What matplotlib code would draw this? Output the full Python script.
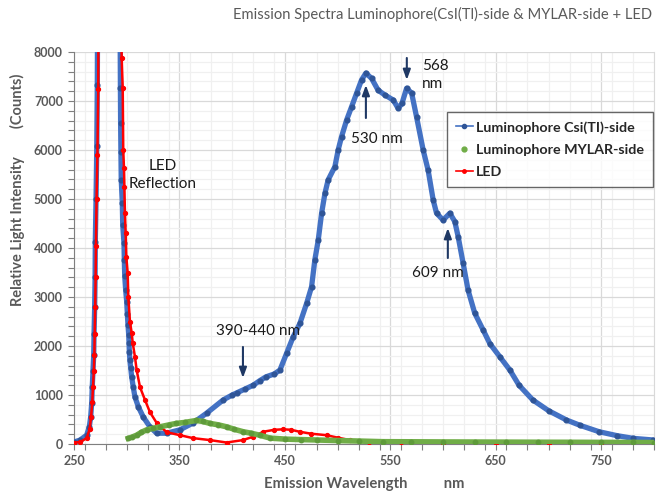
import matplotlib
matplotlib.use("Agg")
import matplotlib.pyplot as plt
from matplotlib.lines import Line2D
from matplotlib.ticker import MultipleLocator, FixedLocator

plt.rcParams['font.family'] = ['Lato', 'DejaVu Sans']

# ---------------- data ----------------
csi_nm = [250, 255.7, 262, 264.5, 265.8, 266.8, 267.3, 268, 268.7, 269, 269.6, 270.0,
          270.2, 270.9, 271.6, 272.1, 273, 293, 294.0, 294.2, 294.5, 294.8, 295.8, 296.2,
          297.4, 297.7, 298.1, 299.0, 300.0, 300.6, 301.2, 301.9, 302.2, 302.5, 303.0,
          303.8, 304.7, 306.2, 307.8, 311.0, 315.7, 322.0, 328.4, 337.9, 350.5, 363.0,
          375.8, 391.5, 400, 405, 412, 420, 426, 432, 440, 445.3, 451.6, 457.9, 464.2,
          470.6, 475.3, 478.4, 481.6, 484.8, 488, 491, 497.4, 500.5, 503.7, 508.5, 513.2,
          518, 522.7, 526.8, 532.2, 538.4, 545, 552.7, 557.4, 561, 565.4, 570.2, 574.8,
          581.1, 585.8, 590.6, 593.8, 600, 606.4, 611.1, 614.3, 619, 623.7, 630, 637.9,
          644.3, 653.8, 663.3, 672, 685, 700, 717, 730, 748, 765, 780, 799]
csi_counts = [40, 80, 180, 350, 550, 840, 1160, 1490, 1820, 2240, 2800, 3410,
              4120, 5000, 6080, 7330, 12000, 12000, 7270, 6560, 5950, 5390, 4920, 4470,
              4100, 3760, 3430, 3140, 2900, 2650, 2430, 2220, 2060, 1880, 1710,
              1550, 1370, 1160, 960, 760, 550, 350, 220, 220, 290, 430,
              630, 900, 1000, 1050, 1120, 1200, 1290, 1370, 1430, 1510, 1850, 2190, 2460,
              2870, 3210, 3760, 4160, 4710, 5120, 5390, 5660, 6000, 6270, 6610, 6880,
              7160, 7430, 7570, 7460, 7220, 7120, 7020, 6850, 6950, 7260, 7160, 6680,
              6000, 5590, 4980, 4710, 4570, 4710, 4540, 4230, 3690, 3140, 2670, 2330,
              2050, 1780, 1510, 1200, 900, 680, 490, 380, 250, 170, 116, 82]

mylar_nm = [301.5, 305, 309.4, 314, 319, 325, 331.5, 340, 347, 355, 366, 372, 379, 387,
            394.7, 402, 410.5, 418, 426, 436, 450, 465, 480, 500, 520, 543, 570, 600,
            630, 660, 690, 720, 750, 780, 800]
mylar_counts = [116, 140, 180, 240, 290, 320, 350, 390, 420, 440, 480, 460, 420, 390,
                350, 300, 250, 220, 180, 120, 100, 90, 82, 70, 60, 47, 45, 42,
                40, 38, 36, 35, 33, 32, 30]

led_nm = [250, 256, 262, 264.8, 266.2, 267.3, 268, 268.8, 269.3, 269.6, 270.1, 270.5,
          270.8, 271.4, 272.2, 273.0, 273.6, 292.5, 295.2, 296.2, 296.7, 297.4, 297.8,
          298.3, 299.0, 299.6, 300.9, 301.5, 303.1, 304.7, 305.7, 307.8, 309.4, 312.6,
          317.3, 322.0, 328.4, 337.9, 350.5, 362.8, 378.9, 394.7, 410.2, 420, 429.4,
          440, 448.4, 456, 464, 475, 489.5, 500, 511.6, 530, 560, 600, 650, 700, 750, 800]
led_counts = [30, 40, 120, 300, 550, 850, 1160, 1490, 1820, 2240, 2800, 3410,
              4040, 5000, 5900, 7240, 12000, 12000, 7880, 7270, 6000, 5630, 5240,
              4710, 4310, 3820, 3490, 3000, 2490, 2270, 2060, 1780, 1510, 1160,
              900, 650, 430, 240, 180, 120, 80, 30, 80, 150, 250,
              290, 300, 290, 250, 210, 180, 130, 80, 50, 40, 25, 20, 18, 15, 15]

x_ticks = [250, 350, 450, 550, 650, 750]
y_ticks = [0, 1000, 2000, 3000, 4000, 5000, 6000, 7000, 8000]

labels = ["Luminophore Csi(TI)-side", "Luminophore MYLAR-side", "LED"]
title = "Emission Spectra Luminophore(CsI(Tl)-side & MYLAR-side + LED"

# ---------------- figure ----------------
fig = plt.figure(figsize=(6.6, 4.95), dpi=100)
ax = fig.add_axes([74/660, 1-444/495, 580/660, 392/495])

BLUE = '#4472C4'
BLUE_DK = '#2F5597'
GREEN = '#70AD47'
RED = '#FF0000'

ax.plot(csi_nm, csi_counts, color=BLUE, lw=3.8, marker='o', ms=3.4,
        mfc=BLUE_DK, mec=BLUE_DK, zorder=3, solid_joinstyle='round')
ax.plot(led_nm, led_counts, color=RED, lw=1.8, marker='o', ms=2.8,
        mfc=RED, mec=RED, zorder=4)
ax.plot(mylar_nm, mylar_counts, color=GREEN, lw=4.0, marker='o', ms=3.2,
        mfc='#5E9A3A', mec='#5E9A3A', zorder=5, solid_joinstyle='round')

ax.set_xlim(250, 800)
ax.set_ylim(0, 8000)
ax.xaxis.set_major_locator(FixedLocator(x_ticks))
ax.xaxis.set_minor_locator(MultipleLocator(20))
ax.yaxis.set_major_locator(FixedLocator(y_ticks))
ax.yaxis.set_minor_locator(MultipleLocator(200))

ax.grid(which='minor', color='#F0F0F0', lw=0.9, zorder=0)
ax.grid(which='major', color='#D9D9D9', lw=0.9, zorder=0)
ax.set_axisbelow(True)

ax.spines['top'].set_visible(False)
ax.spines['right'].set_color('#D9D9D9')
ax.spines['left'].set_color('#7F7F7F')
ax.spines['bottom'].set_color('#7F7F7F')

ax.tick_params(which='both', direction='out', color='#7F7F7F', length=4, width=0.8)
ax.tick_params(axis='both', which='major', labelsize=9, labelcolor='#595959', pad=4)
for lab in ax.get_xticklabels() + ax.get_yticklabels():
    lab.set_fontweight('bold')

fig.text(652/660, 1-14/495, title, ha='right', va='center', fontsize=10.6, color='#595959')
fig.text(17/660, 1-190/495, "Relative Light Intensity        (Counts)", rotation=90,
         ha='center', va='center', fontsize=10.5, fontweight='bold', color='#595959')
fig.text(364/660, 1-484/495, "Emission Wavelength          nm", ha='center', va='center',
         fontsize=10.7, fontweight='bold', color='#595959')

# ---------------- annotations ----------------
ARROW = '#1F3864'
aprops = dict(arrowstyle='-|>,head_length=0.6,head_width=0.22', color=ARROW, lw=1.5,
              shrinkA=0, shrinkB=0)
ax.annotate('', xy=(410.2, 1347), xytext=(410.2, 1980), arrowprops=aprops)
ax.annotate('', xy=(526.8, 7327), xytext=(526.8, 6653), arrowprops=aprops)
ax.annotate('', xy=(565.6, 7429), xytext=(565.6, 7878), arrowprops=aprops)
ax.annotate('', xy=(604.5, 4408), xytext=(604.5, 3796), arrowprops=aprops)

tkw = dict(fontsize=11, color='#1A1A1A', zorder=6)
ax.text(424.4, 2306, "390-440 nm", ha='center', va='center', **tkw)
ax.text(537.2, 6224, "530 nm", ha='center', va='center', **tkw)
ax.text(580, 7531, "568\nnm", ha='left', va='center', linespacing=1.45, **tkw)
ax.text(595, 3490, "609 nm", ha='center', va='center', **tkw)
ax.text(334.4, 5490, "LED\nReflection", ha='center', va='center', linespacing=1.35, **tkw)

# ---------------- legend ----------------
handles = [
    Line2D([], [], color=BLUE, lw=1.2, marker='o', ms=3, mfc=BLUE_DK, mec=BLUE_DK),
    Line2D([], [], color=GREEN, ls='none', marker='o', ms=3.5, mfc=GREEN, mec=GREEN),
    Line2D([], [], color=RED, lw=1.2, marker='o', ms=2.5, mfc=RED, mec=RED),
]
leg = ax.legend(handles, labels, loc='upper left', bbox_to_anchor=(0.643, 0.846),
                frameon=True, fancybox=False, handlelength=1.2, handletextpad=0.25,
                borderpad=0.6, labelspacing=0.72, borderaxespad=0,
                prop=dict(weight='bold', size=10.3))
leg.get_frame().set_edgecolor('#404040')
leg.get_frame().set_linewidth(1.0)
leg.get_frame().set_facecolor('#FFFFFF')
leg.set_zorder(7)
for t in leg.get_texts():
    t.set_color('#262626')

fig.savefig('out.png', dpi=100)
